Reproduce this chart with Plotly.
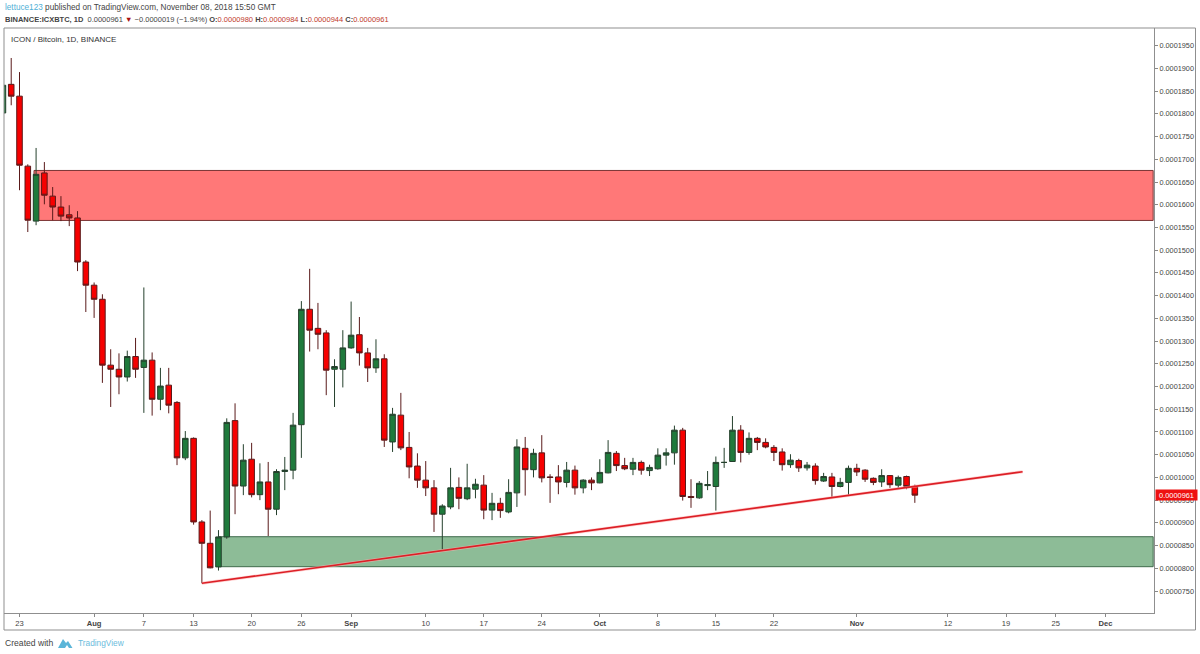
import pandas as pd
import plotly.graph_objects as go

# prices in units of 1e-7 BTC
opens = [1802,1865,1839,1685,1564,1670,1619,1595,1578,1571,1474,1423,1392,1247,1238,1221,1266,1242,1258,1172,1203,1165,1043,1086,902,855,803,869,1125,981,1040,962,990,930,1013,1016,1116,1370,1328,1318,1238,1238,1285,1314,1274,1241,1261,1078,1137,1066,1025,994,977,919,935,978,953,974,983,928,943,924,966,1064,1017,1054,1001,1001,989,1016,977,994,988,1010,1053,1026,1018,1033,1015,1019,1049,1054,1104,958,955,982,980,1033,1035,1104,1055,1086,1077,1066,1056,1028,1037,1021,1025,992,1001,980,989,1020,1016,998,990,1004,983,1002,980]
highs = [1863,1923,1892,1689,1725,1694,1639,1619,1599,1586,1478,1429,1403,1282,1273,1279,1307,1418,1275,1241,1241,1168,1102,1088,906,927,884,1130,1163,1073,1076,1031,1034,1018,1045,1142,1388,1459,1384,1324,1260,1324,1387,1353,1285,1304,1271,1153,1186,1100,1053,1036,994,941,1021,1000,1030,997,1005,966,955,996,1084,1089,1063,1093,1007,1027,1034,1026,996,1000,1040,1082,1058,1043,1043,1037,1028,1064,1064,1114,1109,996,992,1014,1046,1065,1135,1115,1099,1089,1086,1071,1064,1051,1041,1034,1031,1010,1010,999,1026,1030,1018,1000,1018,1005,1004,1004,984]
lows = [1802,1819,1632,1540,1555,1601,1566,1564,1553,1454,1364,1351,1208,1155,1183,1211,1219,1142,1136,1148,1141,1027,1038,896,767,800,795,865,919,961,956,950,871,917,972,996,1043,1277,1282,1181,1155,1198,1283,1246,1210,1230,1067,1056,1060,998,977,959,880,842,930,930,950,954,908,906,911,921,935,960,1000,989,944,963,978,962,965,972,987,1009,1014,1016,1005,1006,1003,1017,1026,1028,949,933,953,972,927,1021,1034,1033,1050,1060,1064,1036,1015,1021,1012,1015,984,990,956,978,959,1003,990,983,979,977,977,974,944]
closes = [1863,1839,1687,1566,1667,1621,1595,1575,1571,1474,1423,1392,1247,1238,1221,1266,1238,1258,1172,1201,1159,1043,1086,902,855,801,869,1121,981,1038,962,990,930,1013,1016,1115,1370,1324,1315,1236,1244,1285,1313,1274,1241,1261,1082,1139,1065,1023,994,977,919,937,977,954,977,985,928,943,927,967,1067,1017,1053,999,1000,990,1016,977,994,988,1011,1055,1026,1019,1033,1016,1022,1049,1054,1104,958,956,987,984,1033,1033,1104,1055,1086,1077,1067,1055,1028,1038,1021,1027,993,1002,980,989,1020,1012,996,989,1004,984,1000,980,961]

dates = pd.date_range("2018-07-21", periods=len(opens), freq="D").strftime("%Y-%m-%d").tolist()
SCALE = 1e-7
o = [v * SCALE for v in opens]
h = [v * SCALE for v in highs]
l = [v * SCALE for v in lows]
c = [v * SCALE for v in closes]

x_tick_vals = ["2018-07-23","2018-08-01","2018-08-07","2018-08-13","2018-08-20","2018-08-26","2018-09-01","2018-09-10","2018-09-17","2018-09-24","2018-10-01","2018-10-08","2018-10-15","2018-10-22","2018-11-01","2018-11-12","2018-11-19","2018-11-25","2018-12-01"]
x_tick_text = ["23","<b>Aug</b>","7","13","20","26","<b>Sep</b>","10","17","24","<b>Oct</b>","8","15","22","<b>Nov</b>","12","19","25","<b>Dec</b>"]
y_ticks = [p * 1e-7 for p in range(750, 2000, 50)]
y_text = [f"{p*1e-7:.7f}" for p in range(750, 2000, 50)]

red_zone = [1565.5e-7, 1675.5e-7]
green_zone = [803.5e-7, 869.5e-7]
trend_x = ["2018-08-14", "2018-11-21"]
trend_y = [767e-7, 1012.5e-7]
last_price = 961e-7

W, H = 1200, 654
L, R, T, B = 4, 1154, 28, 613
def px(x): return (x - L) / (R - L)
def py(y): return (B - y) / (B - T)

fig = go.Figure()
fig.add_trace(go.Candlestick(
    x=dates, open=o, high=h, low=l, close=c, whiskerwidth=0,
    increasing=dict(fillcolor="#1f7a3c", line=dict(color="#25402d", width=1)),
    decreasing=dict(fillcolor="#f60000", line=dict(color="#5a1a1a", width=1)),
    hoverinfo="skip", showlegend=False))
fig.add_trace(go.Scatter(x=trend_x, y=trend_y, mode="lines",
    line=dict(color="#ffb0b0", width=3), opacity=0.6, showlegend=False, hoverinfo="skip"))
fig.add_trace(go.Scatter(x=trend_x, y=trend_y, mode="lines",
    line=dict(color="#dc1f26", width=1.6), showlegend=False, hoverinfo="skip"))

x_end = "2018-12-06 18:00"
shapes = [
    dict(type="rect", layer="below", x0="2018-07-24 18:00", x1=x_end, y0=red_zone[0], y1=red_zone[1],
         fillcolor="#ff7878", line=dict(color="#7a3434", width=1)),
    dict(type="rect", layer="below", x0="2018-08-16", x1=x_end, y0=green_zone[0], y1=green_zone[1],
         fillcolor="#8dbc97", line=dict(color="#3f6a4c", width=1)),
    dict(type="rect", xref="paper", yref="paper", x0=px(4), x1=px(1195.5), y0=py(630), y1=py(28),
         line=dict(color="#8f8f8f", width=1)),
    dict(type="path", xref="paper", yref="paper", fillcolor="#5bb5d8", line=dict(width=0),
         path=f"M {px(58)} {py(648)} L {px(63)} {py(639)} L {px(66)} {py(643)} L {px(68)} {py(641)} L {px(72.5)} {py(648)} L {px(69)} {py(648)} L {px(67)} {py(645)} L {px(65)} {py(648)} Z"),
]
font_h = "Liberation Sans"
annots = [
    dict(x=px(3), y=py(8), text='<span style="color:#4fb0d6">lettuce123</span> published on TradingView.com, November 08, 2018 15:50 GMT',
         font=dict(size=8.2, color="#444", family=font_h)),
    dict(x=px(3), y=py(19.5), text='<b>BINANCE:ICXBTC, 1D</b>  0.0000961 <span style="color:#a81010">▼</span> −0.0000019 (−1.94%) <b>O:</b><span style="color:#c0392b">0.0000980</span> <b>H:</b><span style="color:#c0392b">0.0000984</span> <b>L:</b><span style="color:#c0392b">0.0000944</span> <b>C:</b><span style="color:#c0392b">0.0000961</span>',
         font=dict(size=7.5, color="#444", family=font_h)),
    dict(x=px(9), y=py(39.5), text="ICON / Bitcoin, 1D, BINANCE", font=dict(size=8, color="#333", family=font_h)),
    dict(x=px(3), y=py(642.5), text="Created with", font=dict(size=8.6, color="#444", family=font_h)),
    dict(x=px(76), y=py(642.5), text="TradingView", font=dict(size=8.3, color="#6bbcdc", family=font_h)),
]
for a in annots:
    a.update(xref="paper", yref="paper", xanchor="left", yanchor="middle", showarrow=False)
annots.append(dict(xref="paper", yref="y", x=px(1155), y=last_price, xanchor="left", yanchor="middle",
    showarrow=False, text="0.0000961", bgcolor="#ee1111", font=dict(size=7.4, color="white", family="Liberation Sans"),
    width=41, height=10, borderpad=0, align="center"))

fig.update_layout(
    width=W, height=H, margin=dict(l=L, r=W - R, t=T, b=H - B, pad=0, autoexpand=False),
    paper_bgcolor="white", plot_bgcolor="white", showlegend=False, boxgap=0.18, boxgroupgap=0.18,
    shapes=shapes, annotations=annots,
    font=dict(family="Liberation Sans", size=7.3, color="#444"),
    xaxis=dict(type="date", range=["2018-07-21 03:07", "2018-12-06 20:24"], rangeslider=dict(visible=False),
               tickmode="array", tickvals=x_tick_vals, ticktext=x_tick_text, ticks="outside", ticklen=3,
               tickcolor="#888", showgrid=False, zeroline=False, showline=True, linecolor="#8f8f8f", linewidth=1,
               tickfont=dict(size=7.6, color="#444"), tickangle=0, mirror=False),
    yaxis=dict(side="right", range=[701.6e-7, 1989e-7], tickmode="array", tickvals=y_ticks, ticktext=y_text,
               ticks="outside", ticklen=3, tickcolor="#888", showgrid=False, zeroline=False, showline=True,
               linecolor="#8f8f8f", linewidth=1, tickfont=dict(size=7.3, color="#444")),
)
fig.write_html("out.html", config=dict(displayModeBar=False),
               post_script="document.body.style.margin='0';document.body.style.overflow='hidden';")
